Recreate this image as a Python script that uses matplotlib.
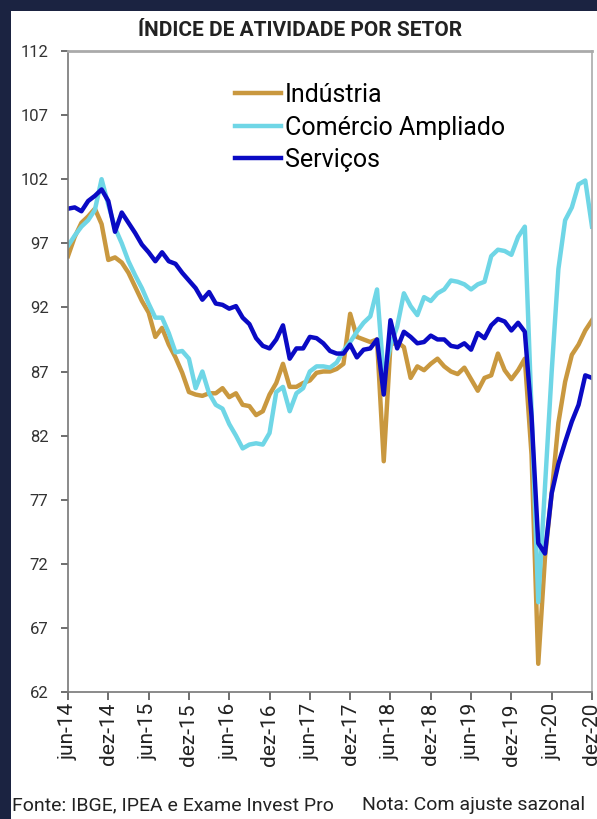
import numpy as np
import matplotlib
matplotlib.use("Agg")
import matplotlib.pyplot as plt
from matplotlib.patches import Rectangle

plt.rcParams['font.family'] = ['Roboto', 'DejaVu Sans']

# indices mensais, jun-14 ate dez-20 (com ajuste sazonal)
industria = [96.0, 97.5, 98.6, 99.1, 99.7, 98.5, 95.7, 95.9, 95.5, 94.7,
             93.6, 92.5, 91.6, 89.7, 90.4, 89.1, 88.1, 86.9, 85.4, 85.2,
             85.1, 85.3, 85.3, 85.7, 85.0, 85.3, 84.4, 84.3, 83.6, 83.9,
             85.2, 86.1, 87.6, 85.8, 85.8, 86.1, 86.3, 86.9, 87.0, 87.0,
             87.2, 87.6, 91.5, 89.7, 89.5, 89.3, 89.5, 80.0, 89.1, 89.3,
             88.9, 86.5, 87.4, 87.1, 87.6, 88.0, 87.4, 87.0, 86.8, 87.3,
             86.4, 85.5, 86.5, 86.7, 88.4, 87.1, 86.4, 87.1, 88.0, 80.5,
             64.2, 72.5, 77.5, 83.0, 86.2, 88.3, 89.1, 90.2, 91.0]

comercio = [96.8, 97.6, 98.3, 98.8, 99.6, 102.0, 100.0, 98.2, 97.0, 95.6,
            94.5, 93.5, 92.3, 91.2, 91.2, 90.0, 88.5, 88.6, 88.0, 85.7,
            87.0, 85.3, 84.4, 84.1, 82.9, 82.0, 81.0, 81.3, 81.4, 81.3,
            82.2, 85.4, 85.8, 83.9, 85.3, 85.7, 87.0, 87.4, 87.4, 87.3,
            87.7, 88.6, 89.3, 90.1, 90.8, 91.3, 93.4, 86.5, 89.0, 90.5,
            93.1, 92.1, 91.4, 92.8, 92.5, 93.1, 93.4, 94.1, 94.0, 93.8,
            93.4, 93.8, 94.0, 96.0, 96.5, 96.4, 96.1, 97.5, 98.3, 84.0,
            69.0, 78.0, 87.0, 95.0, 98.8, 99.8, 101.6, 101.9, 98.3]

servicos = [99.7, 99.8, 99.5, 100.3, 100.7, 101.2, 100.3, 97.9, 99.4, 98.6,
            97.8, 96.9, 96.3, 95.6, 96.3, 95.6, 95.4, 94.7, 94.1, 93.5,
            92.6, 93.2, 92.3, 92.2, 91.9, 92.1, 91.2, 90.7, 89.6, 89.0,
            88.8, 89.5, 90.6, 88.0, 88.8, 88.8, 89.7, 89.6, 89.2, 88.6,
            88.4, 88.4, 89.1, 88.1, 88.7, 88.8, 89.5, 85.2, 91.0, 88.8,
            90.1, 89.7, 89.2, 89.3, 89.8, 89.5, 89.5, 89.0, 88.9, 89.2,
            88.7, 90.0, 89.6, 90.6, 91.1, 90.9, 90.2, 90.8, 90.1, 83.5,
            73.6, 72.8, 77.5, 79.8, 81.5, 83.1, 84.4, 86.7, 86.5]

tick_labels = ["jun-14", "dez-14", "jun-15", "dez-15", "jun-16", "dez-16",
               "jun-17", "dez-17", "jun-18", "dez-18", "jun-19", "dez-19",
               "jun-20", "dez-20"]

meses = np.arange(len(industria))

fig = plt.figure(figsize=(5.97, 8.19), dpi=100)
fig.patch.set_facecolor("#1b2341")
fig.patches.append(Rectangle((11/597, 0), 1, 1 - 11/819, transform=fig.transFigure,
                             facecolor="white", edgecolor="none", zorder=-10))

ax = fig.add_axes([68/597, (819-692)/819, 524/597, 641/819])
ax.set_facecolor("white")

ax.plot(meses, industria, color="#c9983f", lw=3.2, label="Indústria")
ax.plot(meses, comercio, color="#6fd6e6", lw=3.2, label="Comércio Ampliado")
ax.plot(meses, servicos, color="#0a0ac4", lw=3.2, label="Serviços")

ax.set_xlim(0, len(meses) - 1)
ax.set_ylim(62, 112)
ax.set_yticks(np.arange(62, 113, 5))
ax.set_xticks(np.arange(0, len(meses), 6))
ax.set_xticklabels(tick_labels, rotation=90, fontsize=15, color="#222222")
ax.tick_params(axis="y", labelsize=12, colors="#333333", length=5, width=1.2,
               color="#555555", pad=9)
ax.tick_params(axis="x", length=6, width=1.2, color="#555555", pad=2)
for s in ax.spines.values():
    s.set_color("#777777")
    s.set_linewidth(1.2)
ax.spines["top"].set_color("#aaaaaa")
ax.spines["top"].set_linewidth(2)
ax.spines["right"].set_color("#aaaaaa")

ax.legend(loc="upper left", bbox_to_anchor=(0.318, 0.95), frameon=False,
          fontsize=18, handlelength=1.85, handletextpad=0.15, labelspacing=0.34,
          borderpad=0, borderaxespad=0)

fig.text(0.503, 1 - 31/819, "ÍNDICE DE ATIVIDADE POR SETOR", ha="center", va="center",
         fontsize=15, fontweight="bold", color="#222222")
fig.text(12/597, 1 - 805/819, "Fonte: IBGE, IPEA e Exame Invest Pro", ha="left",
         va="center", fontsize=14, color="#222222")
fig.text(362/597, 1 - 805/819, "Nota: Com ajuste sazonal", ha="left",
         va="center", fontsize=14, color="#222222")

fig.savefig("out.png", dpi=100, facecolor=fig.get_facecolor())
